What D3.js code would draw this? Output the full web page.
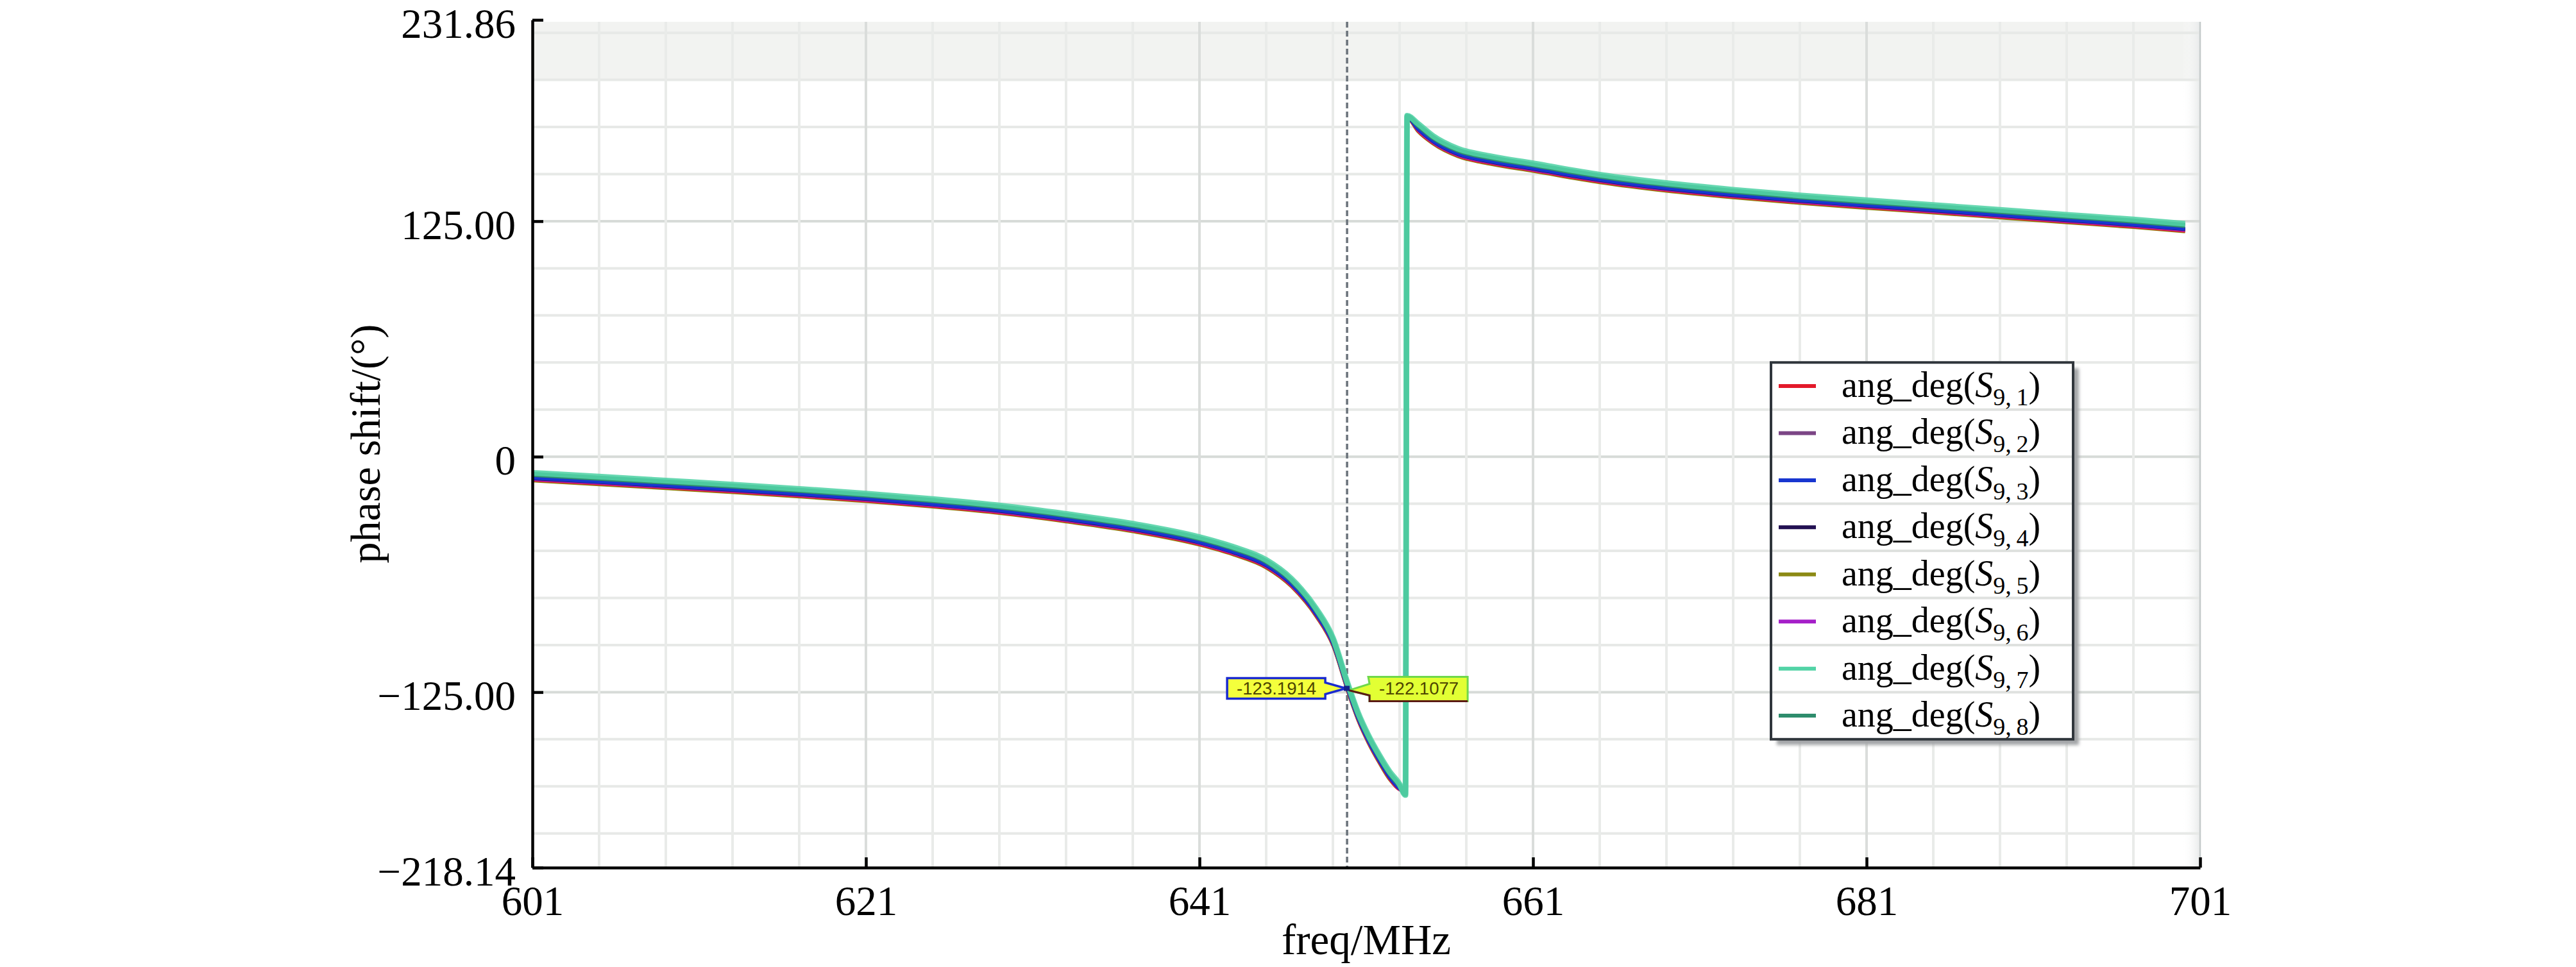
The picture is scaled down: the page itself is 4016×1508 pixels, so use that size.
<!DOCTYPE html>
<html><head><meta charset="utf-8">
<script src="https://cdn.jsdelivr.net/npm/d3@7"></script>
<style>html,body{margin:0;padding:0;background:#fff;} svg{display:block;}</style>
</head><body>
<svg id="chart" width="4016" height="1508"></svg>
<script>
// ---------- data ----------
const freq = [601, 605, 609, 613, 617, 621, 625, 629, 633, 637, 641, 643, 645, 646.5, 648, 649, 649.9, 650.5, 651.1, 651.8, 652.4, 653.0, 653.35, 653.45, 654.1, 655, 656.5, 658.5, 661, 665, 669, 673, 677, 681, 685, 689, 693, 697, 700.1];

const s9_1 = [-12.4, -14.4, -16.5, -18.6, -20.9, -23.4, -26.3, -29.7, -34.2, -39.4, -46.5, -51.6, -58.6, -68.5, -84.5, -100.0, -124.6, -139.5, -151.2, -162.5, -171.0, -176.8, -177.5, 179.9, 173.0, 166.5, 159.7, 155.6, 151.9, 145.9, 141.4, 137.9, 134.9, 132.3, 129.8, 127.2, 124.6, 122.1, 119.8];
const s9_2 = [-11.4, -13.4, -15.5, -17.6, -19.9, -22.4, -25.3, -28.7, -33.2, -38.4, -45.5, -50.6, -57.6, -67.5, -83.5, -99.0, -123.6, -138.5, -150.2, -161.5, -170.0, -176.2, -178.4, 180.1, 174.0, 167.5, 160.7, 156.6, 152.9, 146.9, 142.4, 138.9, 135.9, 133.3, 130.8, 128.2, 125.6, 123.1, 120.8];
const s9_3 = [-11.2, -13.2, -15.3, -17.4, -19.7, -22.2, -25.1, -28.5, -33.0, -38.2, -45.3, -50.4, -57.4, -67.3, -83.3, -98.8, -123.4, -138.3, -150.0, -161.3, -169.8, -176.0, -178.5, 180.2, 174.2, 167.7, 160.9, 156.8, 153.1, 147.1, 142.6, 139.1, 136.1, 133.5, 131.0, 128.4, 125.8, 123.3, 121.0];
const s9_4 = [-11.6, -13.6, -15.7, -17.8, -20.1, -22.6, -25.5, -28.9, -33.4, -38.6, -45.7, -50.8, -57.8, -67.7, -83.7, -99.2, -123.8, -138.7, -150.4, -161.7, -170.2, -176.3, -178.3, 180.0, 173.8, 167.3, 160.5, 156.4, 152.7, 146.7, 142.2, 138.7, 135.7, 133.1, 130.6, 128.0, 125.4, 122.9, 120.6];
const s9_5 = [-12.8, -14.8, -16.9, -19.0, -21.3, -23.8, -26.7, -30.1, -34.6, -39.8, -46.9, -52.0, -59.0, -68.9, -84.9, -100.4, -125.0, -139.9, -151.6, -162.9, -171.4, -176.5, -177.0, 179.8, 172.6, 166.1, 159.3, 155.2, 151.5, 145.5, 141.0, 137.5, 134.5, 131.9, 129.4, 126.8, 124.2, 121.7, 119.4];
const s9_6 = [-12.0, -14.0, -16.1, -18.2, -20.5, -23.0, -25.9, -29.3, -33.8, -39.0, -46.1, -51.2, -58.2, -68.1, -84.1, -99.6, -124.2, -139.1, -150.8, -162.1, -170.6, -176.6, -178.0, 180.0, 173.4, 166.9, 160.1, 156.0, 152.3, 146.3, 141.8, 138.3, 135.3, 132.7, 130.2, 127.6, 125.0, 122.5, 120.2];
const s9_7 = [-8.6, -10.6, -12.7, -14.8, -17.1, -19.6, -22.5, -25.9, -30.4, -35.6, -42.7, -47.8, -54.8, -64.7, -80.7, -96.2, -120.8, -135.7, -147.4, -158.7, -167.2, -173.9, -179.6, 181.0, 176.8, 170.3, 163.5, 159.4, 155.7, 149.7, 145.2, 141.7, 138.7, 136.1, 133.6, 131.0, 128.4, 125.9, 123.6];
const s9_8 = [-9.4, -11.4, -13.5, -15.6, -17.9, -20.4, -23.3, -26.7, -31.2, -36.4, -43.5, -48.6, -55.6, -65.5, -81.5, -97.0, -121.6, -136.5, -148.2, -159.5, -168.0, -174.6, -179.2, 180.6, 176.0, 169.5, 162.7, 158.6, 154.9, 148.9, 144.4, 140.9, 137.9, 135.3, 132.8, 130.2, 127.6, 125.1, 122.8];

const seriesSub = ["1", "2", "3", "4", "5", "6", "7", "8"];
const seriesColors = ["#e3192a", "#7b4585", "#1836d0", "#221052", "#8c8a14", "#a51fc8", "#52d3a6", "#2e8c6c"];

const xTicks = [601, 621, 641, 661, 681, 701];
const yTicks = [231.86, 125, 0, -125, -218.14];
const yTickLabels = ["231.86", "125.00", "0", "\u2212125.00", "\u2212218.14"];

const markerFreq = 649.85;
const markerLabels = ["-123.1914", "-122.1077"];

// ---------- drawing ----------
const svg = d3.select("#chart");
const x = d3.scaleLinear().domain([601, 701]).range([830, 3430]);
const y = d3.scaleLinear().domain([-218.14, 231.86]).range([1353, 31]);
const gridTop = 34;
const serif = "'Liberation Serif','Times New Roman',serif";

// top shaded band
svg.append("rect").attr("x", x(601)).attr("y", gridTop)
  .attr("width", x(701) - x(601)).attr("height", y(200) - gridTop)
  .attr("fill", "#f2f3f1");

// right-edge soft shading
const defs = svg.append("defs");
const grad = defs.append("linearGradient").attr("id", "edge").attr("x1", "0").attr("x2", "1");
grad.append("stop").attr("offset", "0").attr("stop-color", "#ffffff").attr("stop-opacity", 0);
grad.append("stop").attr("offset", "1").attr("stop-color", "#e8eaea").attr("stop-opacity", 1);
svg.append("rect").attr("x", x(701) - 28).attr("y", gridTop).attr("width", 28)
  .attr("height", y(-218.14) - gridTop).attr("fill", "url(#edge)");

const grid = svg.append("g");
d3.range(-200, 226, 25).forEach(v => {
  grid.append("line").attr("x1", x(601)).attr("x2", x(701))
    .attr("y1", y(v)).attr("y2", y(v))
    .attr("stroke", v % 125 === 0 ? "#d7dbd8" : "#e7e9e7").attr("stroke-width", 4);
});
d3.range(605, 700, 4).forEach(v => {
  grid.append("line").attr("x1", x(v)).attr("x2", x(v))
    .attr("y1", gridTop).attr("y2", y(-218.14))
    .attr("stroke", (v - 601) % 20 === 0 ? "#dadddb" : "#e9ebe9").attr("stroke-width", 4);
});
svg.append("line").attr("x1", x(701)).attr("x2", x(701)).attr("y1", gridTop).attr("y2", y(-218.14))
  .attr("stroke", "#c5cbcb").attr("stroke-width", 2.5);

// marker dashed line
svg.append("line").attr("x1", x(markerFreq)).attr("x2", x(markerFreq))
  .attr("y1", gridTop).attr("y2", y(-218.14))
  .attr("stroke", "#6b737b").attr("stroke-width", 3.5).attr("stroke-dasharray", "9,5");

// curves
const allSeries = [s9_1, s9_2, s9_3, s9_4, s9_5, s9_6, s9_7, s9_8];
const drawOrder = [4, 0, 5, 1, 3, 2, 7, 6];
const widths = [5, 5, 6, 5, 5, 5, 9, 8];
const line = d3.line().x((d, i) => x(freq[i])).y(d => y(d)).curve(d3.curveMonotoneX);
const curves = svg.append("g").attr("fill", "none").attr("stroke-linejoin", "round");
drawOrder.forEach(k => {
  curves.append("path").datum(allSeries[k]).attr("d", line)
    .attr("stroke", seriesColors[k]).attr("stroke-width", widths[k])
    .attr("stroke-opacity", k === 6 ? 0.88 : 1);
});

// axes
const yAxis = d3.axisLeft(y).tickValues(yTicks).tickSize(-17).tickSizeOuter(0).tickPadding(26)
  .tickFormat((d, i) => yTickLabels[i]);
const gy = svg.append("g").attr("transform", `translate(${x(601)},0)`).call(yAxis);
gy.selectAll(".tick text").attr("dy", "0.42em");
const xAxis = d3.axisBottom(x).tickValues(xTicks).tickSize(-16).tickSizeOuter(0).tickPadding(28)
  .tickFormat(d3.format("d"));
const gx = svg.append("g").attr("transform", `translate(0,${y(-218.14)})`).call(xAxis);
[gy, gx].forEach(g => {
  g.attr("font-family", serif).attr("font-size", 65);
  g.select(".domain").attr("stroke", "#000").attr("stroke-width", 4.5);
  g.selectAll(".tick line").attr("stroke", "#000").attr("stroke-width", 4.5);
  g.selectAll(".tick text").attr("fill", "#000");
});

// axis titles
svg.append("text").attr("x", (x(601) + x(701)) / 2).attr("y", 1488)
  .attr("text-anchor", "middle").attr("font-family", serif).attr("font-size", 67)
  .text("freq/MHz");
svg.append("text").attr("transform", `translate(592,${(y(231.86) + y(-218.14)) / 2}) rotate(-90)`)
  .attr("text-anchor", "middle").attr("font-family", serif).attr("font-size", 66)
  .text("phase shift/(\u00B0)");

// marker callouts
const mx = x(markerFreq), my = y(-123);
const callout = svg.append("g");
callout.append("path")
  .attr("d", `M${mx - 187},${my - 16} H${mx - 34} V${my - 9} L${mx - 2},${my} L${mx - 34},${my + 9} V${my + 16} H${mx - 187} Z`)
  .attr("fill", "#f4ff3c").attr("stroke", "#1a2ad0").attr("stroke-width", 3.5);
callout.append("text").attr("x", mx - 110).attr("y", my + 10).attr("text-anchor", "middle")
  .attr("font-family", "'Liberation Sans Narrow','Liberation Sans',Arial,sans-serif")
  .attr("font-size", 28).attr("fill", "#4d4500").attr("textLength", 124).attr("lengthAdjust", "spacingAndGlyphs")
  .text(markerLabels[0]);
callout.append("path")
  .attr("d", `M${mx + 33},${my - 18} H${mx + 188} V${my + 20} H${mx + 35} V${my + 11} L${mx + 3},${my + 3} L${mx + 35},${my - 7} Z`)
  .attr("fill", "#e2ff34").attr("stroke", "#6fd84a").attr("stroke-width", 3);
callout.append("path")
  .attr("d", `M${mx + 3},${my + 3} L${mx + 35},${my + 11} V${my + 20} H${mx + 188}`)
  .attr("fill", "none").attr("stroke", "#5a1a14").attr("stroke-width", 3);
callout.append("text").attr("x", mx + 112).attr("y", my + 10).attr("text-anchor", "middle")
  .attr("font-family", "'Liberation Sans Narrow','Liberation Sans',Arial,sans-serif")
  .attr("font-size", 28).attr("fill", "#4d4500").attr("textLength", 124).attr("lengthAdjust", "spacingAndGlyphs")
  .text(markerLabels[1]);
callout.append("rect").attr("x", mx - 5).attr("y", my - 4).attr("width", 9).attr("height", 8).attr("fill", "#12208a");

// legend
const lgX = 2761, lgW = 471;
const lgTop = y(50), rowH = y(25) - y(50), lgH = rowH * 8;
const blur = defs.append("filter").attr("id", "shadow").attr("x", "-5%").attr("y", "-5%").attr("width", "115%").attr("height", "115%");
blur.append("feGaussianBlur").attr("stdDeviation", 2.5);
svg.append("rect").attr("x", lgX + 9).attr("y", lgTop + 9).attr("width", lgW).attr("height", lgH)
  .attr("fill", "#a3a5a7").attr("filter", "url(#shadow)");
const lg = svg.append("g");
lg.append("rect").attr("x", lgX).attr("y", lgTop).attr("width", lgW).attr("height", lgH).attr("fill", "#fff");
for (let i = 1; i < 8; i++) {
  lg.append("line").attr("x1", lgX).attr("x2", lgX + lgW)
    .attr("y1", lgTop + rowH * i).attr("y2", lgTop + rowH * i)
    .attr("stroke", "#dfe1df").attr("stroke-width", 4);
}
seriesSub.forEach((s, i) => {
  const cy = lgTop + rowH * (i + 0.5);
  lg.append("line").attr("x1", lgX + 12).attr("x2", lgX + 70).attr("y1", cy).attr("y2", cy)
    .attr("stroke", seriesColors[i]).attr("stroke-width", 6);
  const t = lg.append("text").attr("x", lgX + 110).attr("y", cy + 17)
    .attr("font-family", serif).attr("font-size", 56).attr("fill", "#000");
  t.append("tspan").text("ang_deg(");
  t.append("tspan").attr("font-style", "italic").text("S");
  t.append("tspan").attr("font-size", 38).attr("dy", 13).text("9,\u2009" + s);
  t.append("tspan").attr("dy", -13).text(")");
});
lg.append("rect").attr("x", lgX).attr("y", lgTop).attr("width", lgW).attr("height", lgH)
  .attr("fill", "none").attr("stroke", "#30363c").attr("stroke-width", 4);
</script>
</body></html>
